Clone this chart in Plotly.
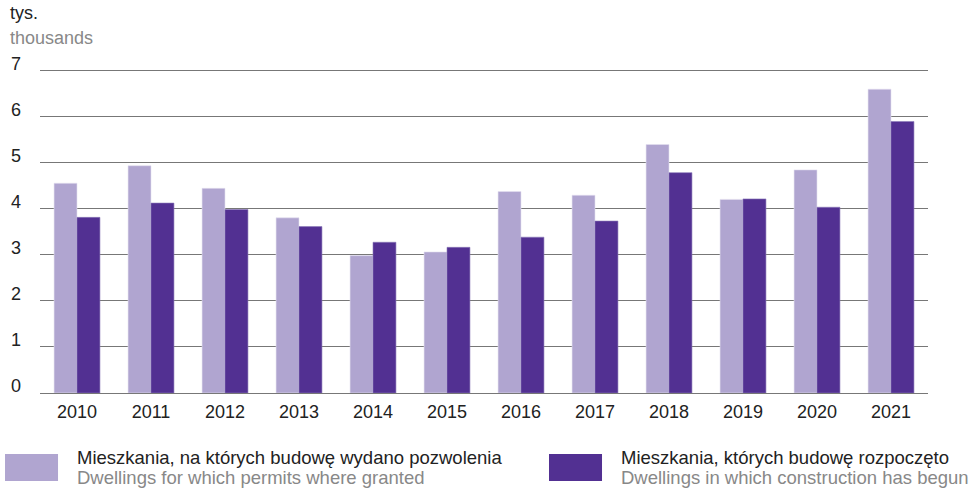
import plotly.graph_objects as go

# lata i wartości (tys.)
lata = ['2010', '2011', '2012', '2013', '2014', '2015', '2016', '2017', '2018', '2019', '2020', '2021']
pozwolenia = [4.55, 4.93, 4.44, 3.80, 2.98, 3.06, 4.37, 4.29, 5.39, 4.20, 4.84, 6.59]
rozpoczete = [3.81, 4.12, 3.98, 3.61, 3.27, 3.16, 3.38, 3.73, 4.78, 4.21, 4.03, 5.89]
y_ticks = [0, 1, 2, 3, 4, 5, 6, 7]

jasny = '#B0A5D0'
ciemny = '#523092'
font = 'Liberation Sans, Arial, sans-serif'

fig = go.Figure()
fig.add_trace(go.Bar(x=lata, y=pozwolenia, marker_color=jasny,
                     marker_line=dict(width=0.6, color='#E4E0F0'),
                     name='Mieszkania, na których budowę wydano pozwolenia'))
fig.add_trace(go.Bar(x=lata, y=rozpoczete, marker_color=ciemny,
                     marker_line=dict(width=0.6, color='#8A78B8'),
                     name='Mieszkania, których budowę rozpoczęto'))

fig.update_layout(
    width=974, height=489,
    margin=dict(l=40, r=46, t=68, b=96),
    plot_bgcolor='white', paper_bgcolor='white',
    barmode='group', bargap=0.38, bargroupgap=0,
    showlegend=False,
    font=dict(family=font, size=18, color='#222222'),
)
fig.update_xaxes(showgrid=False, ticks='', tickfont=dict(size=18, color='#222222'),
                 showline=True, linecolor='#777777', linewidth=1.2,
                 ticklabelstandoff=2)
fig.update_yaxes(range=[0, 7.05], tickvals=y_ticks, showgrid=True, gridcolor='#777777',
                 gridwidth=1.2, zeroline=False, showline=False,
                 tickfont=dict(size=18, color='#222222'),
                 ticklabelstandoff=18, ticklabelshift=-7)

# jednostka (y w papierze: wysokość pola 325 px)
fig.add_annotation(text='tys.', xref='paper', yref='paper', x=-0.036, y=(393 - 13) / 325,
                   xanchor='left', yanchor='middle', showarrow=False,
                   font=dict(size=18, color='#222222'))
fig.add_annotation(text='thousands', xref='paper', yref='paper', x=-0.036, y=(393 - 38) / 325,
                   xanchor='left', yanchor='middle', showarrow=False,
                   font=dict(size=18, color='#888888'))

# legenda
legenda = [
    (jasny, -0.0394, 0.0203, 0.0394, 'Mieszkania, na których budowę wydano pozwolenia',
     'Dwellings for which permits where granted'),
    (ciemny, 0.5732, 0.6329, 0.6520, 'Mieszkania, których budowę rozpoczęto',
     'Dwellings in which construction has begun'),
]
for kolor, x0, x1, xt, pl, en in legenda:
    fig.add_shape(type='rect', xref='paper', yref='paper', x0=x0, x1=x1,
                  y0=(393 - 481) / 325, y1=(393 - 454) / 325, fillcolor=kolor, line_width=0)
    fig.add_annotation(text=pl, xref='paper', yref='paper', x=xt, y=(393 - 457) / 325,
                       xanchor='left', yanchor='middle', showarrow=False,
                       font=dict(size=18.5, color='#222222'))
    fig.add_annotation(text=en, xref='paper', yref='paper', x=xt, y=(393 - 477) / 325,
                       xanchor='left', yanchor='middle', showarrow=False,
                       font=dict(size=18.5, color='#888888'))

# bez marginesu strony
fig.write_html("out.html", config={'displayModeBar': False},
               post_script="document.body.style.margin='0';")
